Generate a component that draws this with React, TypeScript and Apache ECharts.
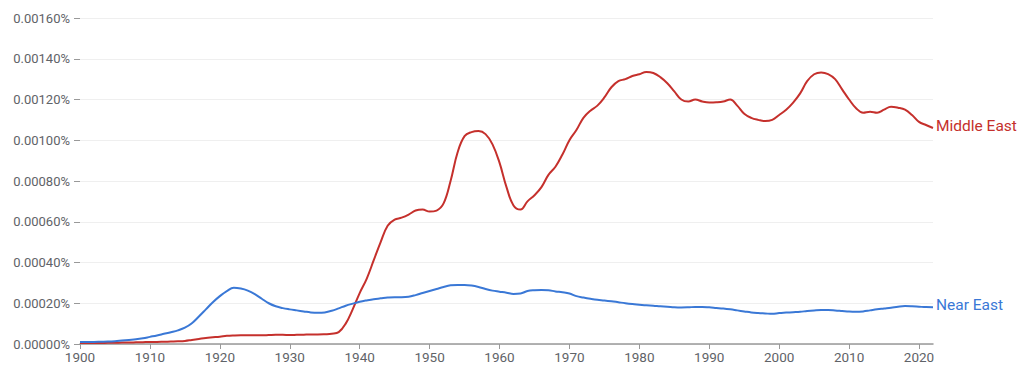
import React, { useEffect, useRef } from "react";
import * as echarts from "echarts";

const startYear = 1900;
const endYear = 2022;

const middleEast = [
  0.000005, 0.000005, 0.000005, 0.000005, 0.000006, 0.000006, 0.000007, 0.000007, 0.000008, 0.000009,
  0.00001, 0.00001, 0.000011, 0.000012, 0.000013, 0.000015, 0.00002, 0.000025, 0.00003, 0.000033,
  0.000036, 0.00004, 0.000042, 0.000043, 0.000043, 0.000043, 0.000043, 0.000044, 0.000045, 0.000045,
  0.000044, 0.000045, 0.000046, 0.000047, 0.000047, 0.000048, 0.00005, 0.000058, 0.0001, 0.00017,
  0.00025, 0.00032, 0.00041, 0.0005, 0.00058, 0.00061, 0.00062, 0.000635, 0.000655, 0.00066,
  0.00065, 0.000655, 0.00069, 0.0008, 0.00094, 0.00102, 0.00104, 0.001045, 0.00103, 0.00098,
  0.00089, 0.00077, 0.00068, 0.00066, 0.0007, 0.00073, 0.00077, 0.00083, 0.00087, 0.00093,
  0.001, 0.00105, 0.00111, 0.001145, 0.00117, 0.00121, 0.00126, 0.00129, 0.0013, 0.001315,
  0.001324, 0.001335, 0.00133, 0.00131, 0.00128, 0.00124, 0.0012, 0.00119, 0.0012, 0.00119,
  0.001185, 0.001186, 0.00119, 0.0012, 0.00117, 0.00113, 0.00111, 0.0011, 0.001094, 0.0011,
  0.001124, 0.00115, 0.001185, 0.00123, 0.00129, 0.001324, 0.001333, 0.001325, 0.0013, 0.00125,
  0.0012, 0.001157, 0.001135, 0.00114, 0.001135, 0.00115, 0.001165, 0.00116, 0.00115, 0.001124,
  0.00109, 0.001075, 0.00106,
];

const nearEast = [
  0.00001, 0.00001, 0.00001, 0.000011, 0.000012, 0.000014, 0.000017, 0.00002, 0.000023, 0.000028,
  0.000035, 0.000042, 0.00005, 0.000058, 0.000067, 0.00008, 0.000102, 0.000135, 0.00017, 0.000205,
  0.000235, 0.00026, 0.000276, 0.000272, 0.000262, 0.000245, 0.000222, 0.0002, 0.000185, 0.000176,
  0.00017, 0.000165, 0.00016, 0.000155, 0.000153, 0.000155, 0.000163, 0.000175, 0.000188, 0.000198,
  0.000207, 0.000214, 0.00022, 0.000224, 0.000228, 0.00023, 0.00023, 0.000232, 0.00024, 0.00025,
  0.00026, 0.00027, 0.00028, 0.000288, 0.00029, 0.00029, 0.000287, 0.00028, 0.00027, 0.000262,
  0.000257, 0.000252, 0.000246, 0.000248, 0.00026, 0.000264, 0.000265, 0.000264, 0.000258, 0.000254,
  0.000248, 0.000235, 0.000228, 0.000222, 0.000217, 0.000214, 0.00021, 0.000205, 0.0002, 0.000196,
  0.000193, 0.00019, 0.000188, 0.000185, 0.000183, 0.00018, 0.000179, 0.00018, 0.000182, 0.000182,
  0.00018, 0.000177, 0.000174, 0.00017, 0.000165, 0.00016, 0.000155, 0.000152, 0.00015, 0.000148,
  0.000152, 0.000154, 0.000156, 0.000158, 0.000162, 0.000165, 0.000167, 0.000167, 0.000165, 0.000162,
  0.000159, 0.000158, 0.00016, 0.000165, 0.00017, 0.000174, 0.000178, 0.000183, 0.000186, 0.000185,
  0.000183, 0.000181, 0.00018,
];

const RED = "#c5302c";
const BLUE = "#3a78d6";
const FONT = "Roboto, 'Noto Sans', sans-serif";

function pairs(values: number[]) {
  return values.map((v, i) => [startYear + i, v]);
}

export default function App() {
  const ref = useRef<HTMLDivElement>(null);
  useEffect(() => {
    if (!ref.current) return;
    const chart = echarts.init(ref.current, undefined, { renderer: "svg" });
    const mkSeries = (name: string, values: number[], color: string) => ({
      name,
      type: "line",
      data: pairs(values),
      smooth: 0.4,
      showSymbol: false,
      symbol: "none",
      lineStyle: { color, width: 2 },
      itemStyle: { color },
      endLabel: {
        show: true,
        formatter: "{a}",
        color,
        fontSize: 15.5,
        fontFamily: FONT,
        distance: 3,
        offset: [0, -2],
      },
    });
    chart.setOption({
      animation: false,
      backgroundColor: "#ffffff",
      grid: { left: 80, right: 91, top: 18, bottom: 28, containLabel: false },
      xAxis: {
        type: "value",
        min: startYear,
        max: endYear,
        interval: 10,
        axisLine: { show: true, lineStyle: { color: "#999999", width: 1.5 } },
        axisTick: { show: true, length: 5, lineStyle: { color: "#999999" } },
        splitLine: { show: false },
        axisLabel: {
          color: "#5f6368",
          fontSize: 13.5,
          fontFamily: FONT,
          margin: 6,
          formatter: (v: number) => String(v),
          showMaxLabel: false,
        },
      },
      yAxis: {
        type: "value",
        min: 0,
        max: 0.0016,
        interval: 0.0002,
        axisLine: { show: false },
        axisTick: { show: true, length: 6, lineStyle: { color: "#999999" } },
        splitLine: { show: true, lineStyle: { color: "#efefef", width: 1 } },
        axisLabel: {
          color: "#5f6368",
          fontSize: 13,
          fontFamily: FONT,
          margin: 10,
          formatter: (v: number) => v.toFixed(5) + "%",
        },
      },
      series: [mkSeries("Middle East", middleEast, RED), mkSeries("Near East", nearEast, BLUE)],
    });
    return () => chart.dispose();
  }, []);
  return (
    <div
      ref={ref}
      style={{ position: "fixed", left: 0, top: 0, width: 1024, height: 372, background: "#fff" }}
    />
  );
}
